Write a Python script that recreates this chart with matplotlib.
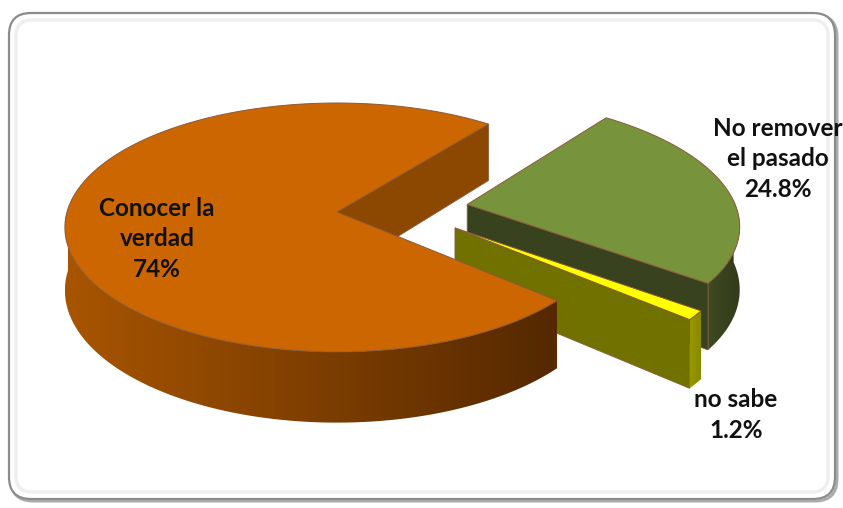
import numpy as np
import matplotlib.pyplot as plt
from matplotlib.patches import Polygon, FancyBboxPatch
from matplotlib.colors import LinearSegmentedColormap

labels = ['Conocer la\nverdad', 'no sabe', 'No remover\nel pasado']
values = [74.0, 1.2, 24.8]
top_colors = ['#CC6600', '#FFFF00', '#77933C']
face_colors = ['#8C4700', '#717100', '#39421F']
wall_colors = [('#A85500', '#552800'), ('#9A9A00', '#858500'), ('#3F4A22', '#323A1A')]
label_pos = [(157, 239), (736, 415), (778, 159)]

# pie geometry in screen pixels (y grows downwards)
CX, CY = 337, 212
RX, RY = 270, 122.5
PERSP = 0.124      # far rim drawn a little smaller than the near rim
DEPTH = 62
START = 52
explode = [(0.0, 0.0), (0.43, -0.128), (0.486, 0.062)]
EDGE = '#8B5A3A'


def project(u, v, down=0.0):
    u = np.asarray(u, dtype=float)
    v = np.asarray(v, dtype=float)
    p = 1.0 / (1.0 + PERSP * v)
    return CX + RX * u * p, CY - RY * v * p + DEPTH * p * down


def draw_slice(ax, t1, t2, off, top, face, wall, z):
    ou, ov = off
    n = max(int((t2 - t1) * 3), 8)
    th = np.radians(np.linspace(t1, t2, n))
    u, v = ou + np.cos(th), ov + np.sin(th)
    xt, yt = project(u, v)
    xb, yb = project(u, v, 1)

    # outer wall, only the part facing the viewer, shaded left to right
    vis = np.where(np.sin(th) < 0.03)[0]
    if len(vis) > 1:
        i0, i1 = vis[0], vis[-1] + 1
        i1 = min(i1, n)
        pts = np.vstack([np.column_stack([xt[i0:i1], yt[i0:i1]]),
                         np.column_stack([xb[i0:i1], yb[i0:i1]])[::-1]])
        clip = Polygon(pts, closed=True, fc='none', ec='none', zorder=z)
        ax.add_patch(clip)
        cmap = LinearSegmentedColormap.from_list('wall', list(wall))
        grad = np.linspace(0, 1, 256).reshape(1, -1)
        im = ax.imshow(grad, cmap=cmap, aspect='auto', interpolation='bilinear',
                       extent=(pts[:, 0].min(), pts[:, 0].max(), pts[:, 1].max(), pts[:, 1].min()),
                       zorder=z)
        im.set_clip_path(clip)

    # radial cut faces
    px0, py0 = project(ou, ov)
    px1, py1 = project(ou, ov, 1)
    for t, nv in ((t1, -np.cos(np.radians(t1))), (t2, np.cos(np.radians(t2)))):
        if nv >= 0:
            continue
        a = np.radians(t)
        ex0, ey0 = project(ou + np.cos(a), ov + np.sin(a))
        ex1, ey1 = project(ou + np.cos(a), ov + np.sin(a), 1)
        ax.add_patch(Polygon([(px0, py0), (ex0, ey0), (ex1, ey1), (px1, py1)],
                             closed=True, fc=face, ec=EDGE, lw=0.6, zorder=z + 0.1))

    # top face
    pts = [(px0, py0)] + list(zip(xt, yt))
    ax.add_patch(Polygon(pts, closed=True, fc=top, ec=EDGE, lw=0.7, zorder=z + 0.2))


fig = plt.figure(figsize=(8.43, 5.08), dpi=100)
ax = fig.add_axes([0, 0, 1, 1])
ax.axis('off')

# chart frame
ax.add_patch(FancyBboxPatch((11, 15), 826, 486, boxstyle='round,pad=0,rounding_size=22',
                            fc='none', ec='#5a5a5a', lw=2.2, alpha=0.5, zorder=0))
ax.add_patch(FancyBboxPatch((9, 13), 826, 486, boxstyle='round,pad=0,rounding_size=22',
                            fc='white', ec='#8c8c8c', lw=1.6, zorder=0.1))
ax.add_patch(FancyBboxPatch((16, 20), 812, 472, boxstyle='round,pad=0,rounding_size=16',
                            fc='none', ec='#efefef', lw=2.5, zorder=0.2))

fracs = np.array(values) / sum(values)
bounds = START + 360 * np.concatenate([[0], np.cumsum(fracs)])

for z, i in enumerate((2, 1, 0)):
    draw_slice(ax, bounds[i], bounds[i + 1], explode[i],
               top_colors[i], face_colors[i], wall_colors[i], 1 + z)

for lab, val, xy in zip(labels, values, label_pos):
    ax.text(xy[0], xy[1], f'{lab}\n{val:g}%', ha='center', va='center',
            fontsize=17.5, fontweight='bold', family='Lato', linespacing=1.38,
            color='#111111', zorder=10)

ax.set_xlim(0, 843)
ax.set_ylim(508, 0)
fig.savefig('out.png', dpi=100)
